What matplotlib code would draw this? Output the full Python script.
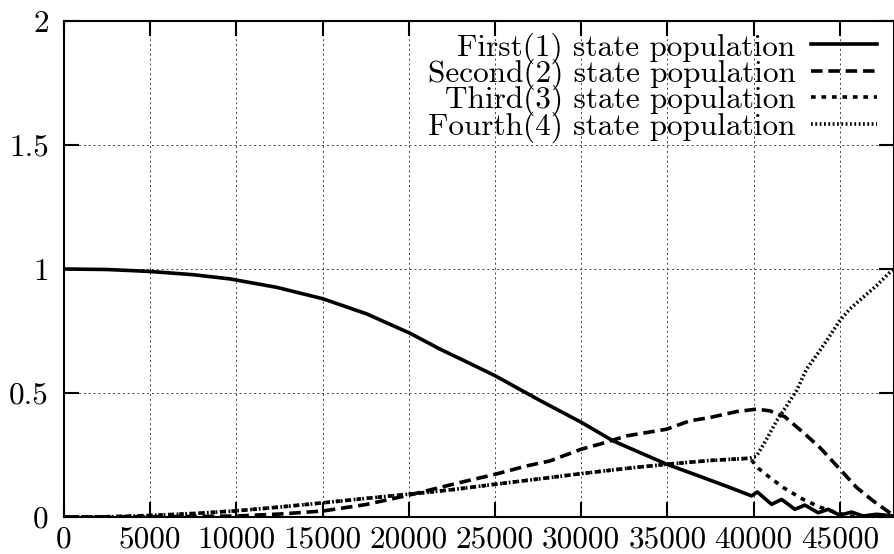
import matplotlib
matplotlib.use("Agg")
import matplotlib.pyplot as plt

# time points / populations
t_first = [0, 2500, 5000, 7500, 9630, 12340, 15020, 17560, 20070, 21810,
           23550, 25000, 27500, 30030, 31850, 34960, 37080, 38630, 39890,
           40220, 41050, 41630, 42400, 42980, 43750, 44330, 45010, 45690,
           46350, 47140, 48150]
p_first = [1.0, 0.998, 0.99, 0.977, 0.96, 0.926, 0.88, 0.819, 0.741, 0.677,
           0.619, 0.57, 0.474, 0.381, 0.307, 0.213, 0.159, 0.119, 0.085,
           0.101, 0.051, 0.071, 0.031, 0.048, 0.017, 0.031, 0.007, 0.02,
           0.004, 0.011, 0.004]

t_second = [0, 5000, 7500, 10000, 12500, 15000, 17500, 20000, 22970, 25000,
            26840, 28190, 30030, 31090, 32640, 34960, 36310, 37470, 39020,
            40180, 40950, 41820, 42880, 43850, 45010, 45980, 46940, 47910, 48150]
p_second = [0.0, 0.001, 0.002, 0.004, 0.012, 0.024, 0.05, 0.088, 0.139, 0.172,
            0.206, 0.226, 0.274, 0.294, 0.327, 0.354, 0.388, 0.401, 0.425,
            0.435, 0.428, 0.404, 0.341, 0.28, 0.193, 0.119, 0.065, 0.017, 0.008]

# third and fourth lie on top of each other up to t=40000
t_shared = [0, 2500, 5000, 7500, 10000, 12500, 15000, 17500, 20000, 22500,
            25000, 27500, 30000, 32500, 35000, 37500, 39800]
p_shared = [0.0, 0.001, 0.006, 0.014, 0.025, 0.04, 0.057, 0.075, 0.092, 0.11,
            0.132, 0.153, 0.175, 0.195, 0.213, 0.228, 0.237]

t_third_tail = [40270, 40950, 41720, 42880, 43850, 44820, 45590, 46500, 48150]
p_third_tail = [0.197, 0.159, 0.119, 0.071, 0.04, 0.017, 0.004, 0.001, 0.0]

t_fourth_tail = [40180, 40760, 41340, 41920, 42500, 43080, 43850, 44430,
                 45010, 45590, 46360, 47140, 47910, 48150]
p_fourth_tail = [0.246, 0.314, 0.388, 0.448, 0.51, 0.597, 0.671, 0.731,
                 0.792, 0.839, 0.886, 0.933, 0.987, 1.0]

labels = ["First(1) state population", "Second(2) state population",
          "Third(3) state population", "Fourth(4) state population"]

xticks = [0, 5000, 10000, 15000, 20000, 25000, 30000, 35000, 40000, 45000]
yticks = [0, 0.5, 1, 1.5, 2]
ytick_labels = ["0", "0.5", "1", "1.5", "2"]

plt.rcParams['font.family'] = 'cmr10'
plt.rcParams['mathtext.fontset'] = 'cm'
plt.rcParams['axes.formatter.use_mathtext'] = True
ftsize = 22.5

fig = plt.figure(figsize=(8.95, 5.54), dpi=100)
W, H = 895.0, 554.0
ax = fig.add_axes([64 / W, 1 - 517 / H, (894 - 64) / W, (517 - 21) / H])

lw = 2.6
ax.plot(t_first, p_first, color='k', lw=lw, linestyle='solid', label=labels[0])
ax.plot(t_second, p_second, color='k', lw=lw, linestyle=(0, (3.2, 1.6)), label=labels[1])
ax.plot(t_shared + t_third_tail, p_shared + p_third_tail, color='k', lw=lw,
        linestyle=(0, (1.3, 1.6)), label=labels[2])
ax.plot(t_shared + t_fourth_tail, p_shared + p_fourth_tail, color='k', lw=lw,
        linestyle=(0, (0.5, 0.7)), label=labels[3])

ax.set_xlim(0, 48150)
ax.set_ylim(0, 2)
ax.set_xticks(xticks)
ax.set_xticklabels([str(v) for v in xticks])
ax.set_yticks(yticks)
ax.set_yticklabels(ytick_labels)
ax.tick_params(direction='in', length=11, width=1.5, top=True, right=True,
               labelsize=ftsize)
ax.tick_params(axis='y', pad=11)
ax.tick_params(axis='x', pad=6)
for s in ax.spines.values():
    s.set_linewidth(1.5)
ax.grid(True, color='0.25', lw=0.7, linestyle=(0, (2, 3)))

leg = ax.legend(loc='upper right', frameon=False, markerfirst=False,
                fontsize=ftsize, handlelength=2.1, handletextpad=0.5,
                labelspacing=-0.16, borderpad=0.0, borderaxespad=0.0,
                bbox_to_anchor=(877 / W, 1 - 32 / H), bbox_transform=fig.transFigure)

fig.savefig("out.png", dpi=100)
